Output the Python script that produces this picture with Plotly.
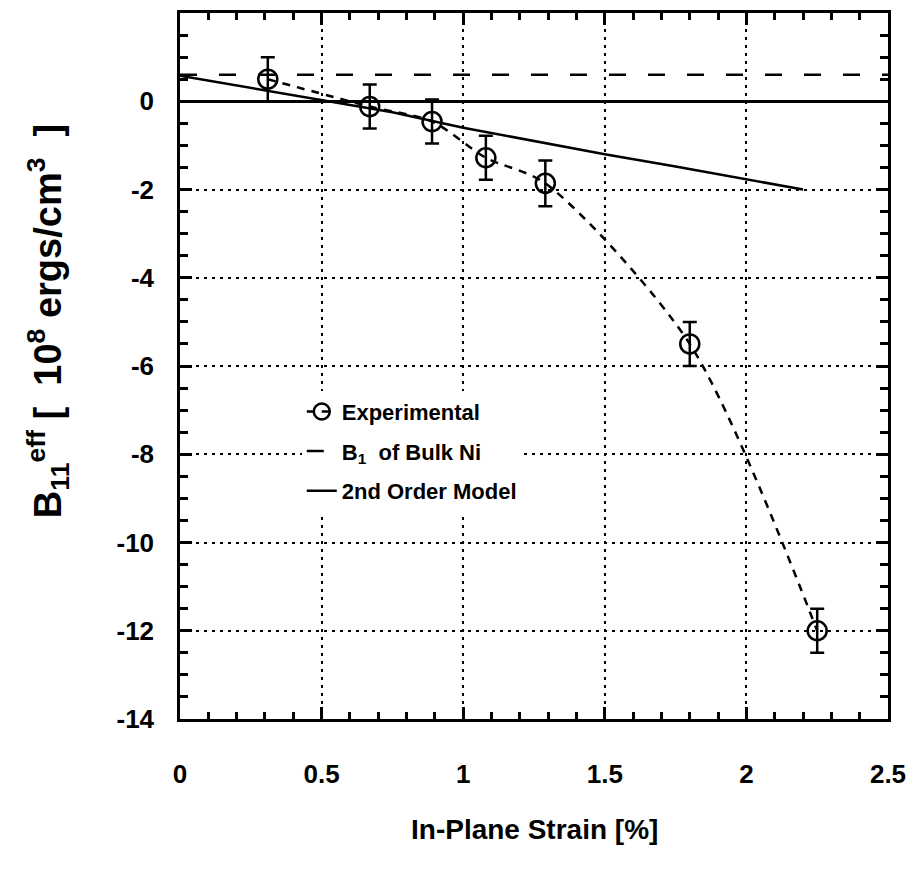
import plotly.graph_objects as go

# Measured magnetoelastic coupling vs in-plane strain
strain_exp = [0.31, 0.67, 0.89, 1.08, 1.29, 1.80, 2.25]
b11_exp = [0.50, -0.12, -0.46, -1.28, -1.86, -5.50, -12.00]
b11_err = [0.50, 0.50, 0.50, 0.50, 0.52, 0.50, 0.50]

# Bulk Ni B1 reference level
strain_bulk = [0.0, 2.5]
b1_bulk = [0.60, 0.60]

# Second-order strain model
strain_model = [0.0, 0.25, 0.5, 0.75, 1.0, 1.25, 1.5, 1.75, 2.0, 2.2]
b11_model = [0.58, 0.30, 0.02, -0.25, -0.60, -0.90, -1.20, -1.48, -1.76, -2.00]

x_ticks = [0, 0.5, 1, 1.5, 2, 2.5]
y_ticks = [2, 0, -2, -4, -6, -8, -10, -12, -14]

FONT = "Arial"
INK = "black"
NB = "\u00a0"

fig = go.Figure()

fig.add_trace(go.Scatter(
    x=strain_model, y=b11_model, mode="lines",
    name="2nd Order Model", legendrank=3, legendgroup="c",
    line=dict(color=INK, width=2.5),
))
fig.add_trace(go.Scatter(
    x=strain_bulk, y=b1_bulk, mode="lines",
    name="B<sub>1</sub>" + NB * 2 + "of Bulk Ni", legendrank=2, legendgroup="b",
    line=dict(color=INK, width=2.5, dash="17px,22px"),
))
fig.add_trace(go.Scatter(
    x=strain_exp, y=b11_exp, mode="lines+markers",
    name="Experimental", legendrank=1, legendgroup="a",
    line=dict(color=INK, width=2.5, dash="8px,7px", shape="spline", smoothing=0.8),
    marker=dict(symbol="circle-open", size=19, color=INK, line=dict(color=INK, width=2.5)),
    error_y=dict(type="data", array=b11_err, visible=True, color=INK, thickness=2.5, width=7),
))

axis_common = dict(
    showline=True, linecolor=INK, linewidth=2.5, mirror="ticks",
    ticks="inside", tickcolor=INK, tickwidth=2.5, ticklen=12,
    showgrid=True, gridcolor=INK, gridwidth=2, griddash="3px,5px",
    tickfont=dict(family=FONT, size=26, color=INK, weight="bold"),
)

fig.update_xaxes(
    range=[0, 2.5], tickvals=x_ticks, ticktext=[f"{v:g}" for v in x_ticks],
    zeroline=False,
    minor=dict(dtick=0.1, ticks="inside", ticklen=7, tickwidth=2.5, tickcolor=INK, showgrid=False),
    ticklabelstandoff=30,
    **axis_common,
)
fig.update_yaxes(
    range=[-14, 2], tickvals=y_ticks, ticktext=[f"{v:d}" for v in y_ticks],
    zeroline=True, zerolinecolor=INK, zerolinewidth=2.5,
    minor=dict(dtick=0.5, ticks="inside", ticklen=8, tickwidth=2.5, tickcolor=INK, showgrid=False),
    ticklabelstandoff=18,
    **axis_common,
)

fig.add_annotation(
    text="In-Plane Strain [%]", xref="paper", yref="paper",
    x=0.5, y=-0.157, xanchor="center", yanchor="middle", showarrow=False,
    font=dict(family=FONT, size=28, color=INK, weight="bold"),
)
fig.add_annotation(
    text=("B<sub>11</sub><sup>eff</sup>" + NB + "[" + NB * 2 + "10<sup>8</sup>" + NB
          + "ergs/cm<sup>3</sup>" + NB * 2 + "]"),
    xref="paper", yref="paper", x=-0.187, y=0.563, textangle=-90,
    xanchor="center", yanchor="middle", showarrow=False,
    font=dict(family=FONT, size=38, color=INK, weight="bold"),
)

fig.update_layout(
    width=916, height=882,
    margin=dict(l=180, r=24, t=10, b=163),
    paper_bgcolor="white", plot_bgcolor="white",
    showlegend=True,
    legend=dict(
        x=0.172, y=0.465, xanchor="left", yanchor="top",
        bgcolor="white", borderwidth=0, traceorder="grouped", tracegroupgap=8,
        font=dict(family=FONT, size=22, color=INK, weight="bold"),
    ),
)

fig.write_html("out.html")
